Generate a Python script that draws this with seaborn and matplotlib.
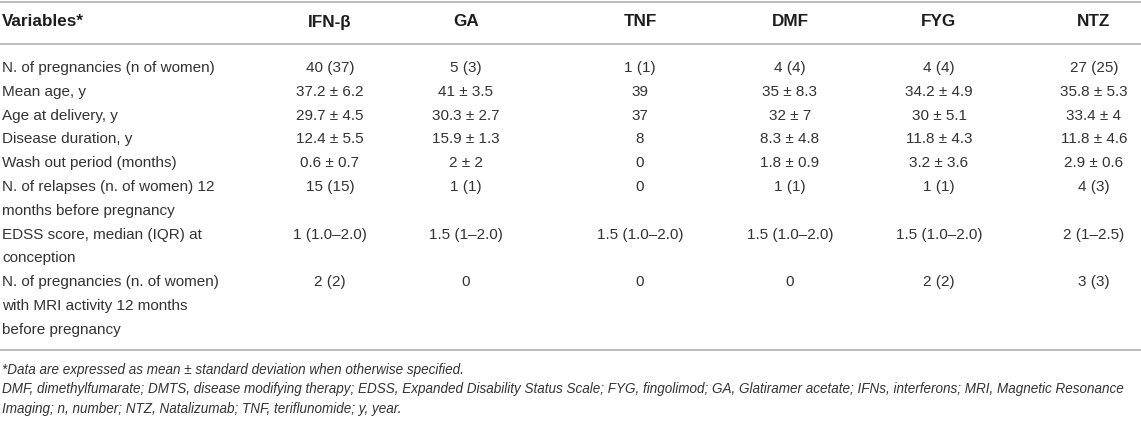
import matplotlib
matplotlib.use("Agg")
import matplotlib.pyplot as plt
import seaborn as sns

# table content
variables = [
    "N. of pregnancies (n of women)",
    "Mean age, y",
    "Age at delivery, y",
    "Disease duration, y",
    "Wash out period (months)",
    "N. of relapses (n. of women) 12\nmonths before pregnancy",
    "EDSS score, median (IQR) at\nconception",
    "N. of pregnancies (n. of women)\nwith MRI activity 12 months\nbefore pregnancy",
]
treatments = ["IFN-β", "GA", "TNF", "DMF", "FYG", "NTZ"]
ifn = ["40 (37)", "37.2 ± 6.2", "29.7 ± 4.5", "12.4 ± 5.5", "0.6 ± 0.7", "15 (15)", "1 (1.0–2.0)", "2 (2)"]
ga = ["5 (3)", "41 ± 3.5", "30.3 ± 2.7", "15.9 ± 1.3", "2 ± 2", "1 (1)", "1.5 (1–2.0)", "0"]
tnf = ["1 (1)", "39", "37", "8", "0", "0", "1.5 (1.0–2.0)", "0"]
dmf = ["4 (4)", "35 ± 8.3", "32 ± 7", "8.3 ± 4.8", "1.8 ± 0.9", "1 (1)", "1.5 (1.0–2.0)", "0"]
fyg = ["4 (4)", "34.2 ± 4.9", "30 ± 5.1", "11.8 ± 4.3", "3.2 ± 3.6", "1 (1)", "1.5 (1.0–2.0)", "2 (2)"]
ntz = ["27 (25)", "35.8 ± 5.3", "33.4 ± 4", "11.8 ± 4.6", "2.9 ± 0.6", "4 (3)", "2 (1–2.5)", "3 (3)"]
footnotes = [
    "*Data are expressed as mean ± standard deviation when otherwise specified.",
    "DMF, dimethylfumarate; DMTS, disease modifying therapy; EDSS, Expanded Disability Status Scale; "
    "FYG, fingolimod; GA, Glatiramer acetate; IFNs, interferons; MRI, Magnetic Resonance",
    "Imaging; n, number; NTZ, Natalizumab; TNF, teriflunomide; y, year.",
]

sns.set_theme(style="white")
plt.rcParams["font.family"] = ["Liberation Sans", "DejaVu Sans"]

columns = [ifn, ga, tnf, dmf, fyg, ntz]

# layout (pixel units)
col_x = [330, 466, 640, 790, 939, 1094]
pitch = 23.8
first = 68
fs = 11
txt = "#333333"
rule = "#b8b8b8"

fig = plt.figure(figsize=(11.41, 4.23), dpi=100)
ax = fig.add_axes([0, 0, 1, 1])
ax.set_xlim(0, 1141)
ax.set_ylim(423, 0)
ax.axis("off")

for y in [2, 44, 350]:
    ax.axhline(y, color=rule, lw=1.3)

ax.text(2, 22, "Variables*", fontsize=12.3, fontweight="bold", color="#1e1e1e", va="center", ha="left")
for x, t in zip(col_x, treatments):
    ax.text(x, 22, t, fontsize=12.3, fontweight="bold", color="#1e1e1e", va="center", ha="center")

k = 0
for i, var in enumerate(variables):
    y0 = first + k * pitch
    for j, line in enumerate(var.split("\n")):
        ax.text(2, y0 + j * pitch, line, fontsize=fs, color=txt, va="center", ha="left")
    for x, col in zip(col_x, columns):
        ax.text(x, y0, col[i], fontsize=fs, color=txt, va="center", ha="center")
    k += len(var.split("\n"))

for n, note in enumerate(footnotes):
    ax.text(2, 370 + n * 19.5, note, fontsize=9.75, style="italic", color=txt, va="center", ha="left")

fig.savefig("out.png", dpi=100)
